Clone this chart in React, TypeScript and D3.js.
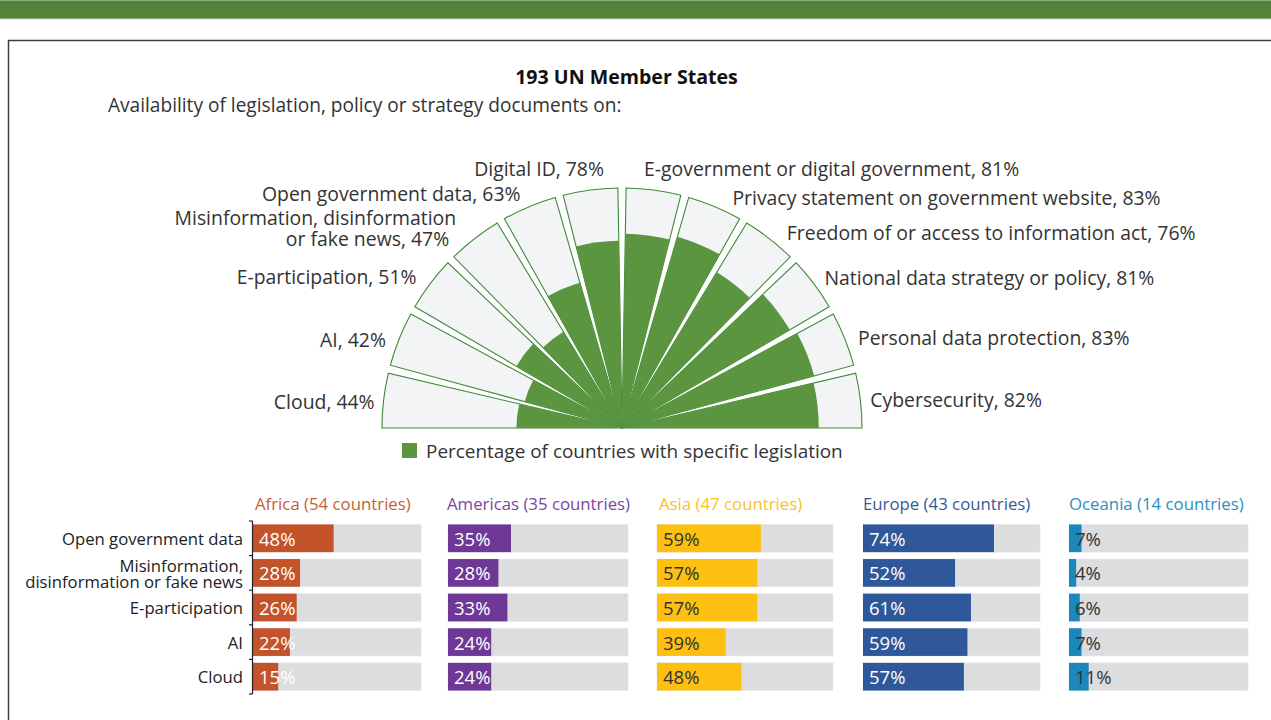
import React from "react";
import * as d3 from "d3";

// ---------- Data ----------
const polarCategories = [
  "Cloud",
  "AI",
  "E-participation",
  "Misinformation, disinformation or fake news",
  "Open government data",
  "Digital ID",
  "E-government or digital government",
  "Privacy statement on government website",
  "Freedom of or access to information act",
  "National data strategy or policy",
  "Personal data protection",
  "Cybersecurity",
];
const polarValues = [44, 42, 51, 47, 63, 78, 81, 83, 76, 81, 83, 82];

const regionNames = [
  "Africa (54 countries)",
  "Americas (35 countries)",
  "Asia (47 countries)",
  "Europe (43 countries)",
  "Oceania (14 countries)",
];
const barCategories = [
  "Open government data",
  "Misinformation, disinformation or fake news",
  "E-participation",
  "AI",
  "Cloud",
];
const africaValues = [48, 28, 26, 22, 15];
const americasValues = [35, 28, 33, 24, 24];
const asiaValues = [59, 57, 57, 39, 48];
const europeValues = [74, 52, 61, 59, 57];
const oceaniaValues = [7, 4, 6, 7, 11];
const regionValues = [africaValues, americasValues, asiaValues, europeValues, oceaniaValues];

// ---------- Styles / layout ----------
const FONT = "'Open Sans', 'Noto Sans', sans-serif";
const W = 1271;
const H = 720;
const GREEN = "#5b9540";
const GREEN_STROKE = "#3f8a35";
const SECTOR_BG = "#f3f4f5";
const regionBarColors = ["#c3532a", "#6e3996", "#fdc010", "#2e5899", "#1a88bb"];
const regionTitleColors = ["#c95e35", "#7a45a0", "#f9c21f", "#34599a", "#2990c3"];
const regionTextColors = ["#ffffff", "#ffffff", "#333333", "#ffffff", "#333333"];
const panelX = [253, 448, 657, 863, 1069];
const panelW = [168, 180, 176, 177, 179];
const titleDx = [2, -1, 2, 0, 0];
// small label nudges [dx, dy] for the polar labels
const labelNudge: [number, number][] = [
  [3, 2], [-2, 5], [-4, 0], [-11, -1], [-4, -2], [0, 0],
  [0, 0], [13, 2], [10, 3], [1, 1], [2, 3], [-2, 0],
];

export default function App() {
  const cx = 622;
  const cy = 428;
  const R = 240;

  const angle = d3
    .scaleBand<string>()
    .domain(polarCategories)
    .range([-Math.PI / 2, Math.PI / 2])
    .paddingInner(0.13)
    .paddingOuter(0);
  const rScale = d3.scaleLinear().domain([0, 100]).range([0, R]);
  const arc = d3.arc<any>();

  const sectors = polarCategories.map((c, i) => {
    const a0 = angle(c)!;
    const a1 = a0 + angle.bandwidth();
    const bg = arc({ innerRadius: 0, outerRadius: R, startAngle: a0, endAngle: a1 });
    const fg = arc({ innerRadius: 0, outerRadius: rScale(polarValues[i]), startAngle: a0, endAngle: a1 });
    const mid = (a0 + a1) / 2;
    const lr = R + 12;
    let lx = cx + lr * Math.sin(mid);
    let ly = cy - lr * Math.cos(mid);
    const right = mid > 0;
    if (i === 5) { lx = cx - 18; ly = cy - R - 20; }
    if (i === 6) { lx = cx + 22; ly = cy - R - 20; }
    lx += labelNudge[i][0];
    ly += labelNudge[i][1];
    const text = `${c}, ${polarValues[i]}%`;
    const lines = c.startsWith("Misinformation")
      ? ["Misinformation, disinformation", `or fake news, ${polarValues[i]}%`]
      : [text];
    return { c, bg, fg, lx, ly, right, lines };
  });

  const y = d3
    .scaleBand<string>()
    .domain(barCategories)
    .range([521, 694])
    .paddingInner(0.2)
    .paddingOuter(0.1);
  const xScales = panelX.map((px, i) => d3.scaleLinear().domain([0, 100]).range([px, px + panelW[i]]));
  const boundaries = barCategories.map((c) => y(c)! - (y.step() * y.paddingInner()) / 2);
  boundaries[0] = 521;
  boundaries.push(694);

  return (
    <svg
      width={W}
      height={H}
      style={{ position: "absolute", left: 0, top: 0, background: "#fff" }}
      fontFamily={FONT}
    >
      {/* top band */}
      <rect x={0} y={0} width={W} height={19} fill="#538238" />
      <rect x={0} y={0} width={W} height={1} fill="#8eae7c" />
      <rect x={0} y={18.5} width={W} height={1} fill="#c9dcbf" />
      {/* frame */}
      <path d={`M8.5,${H} V40.5 H${W}`} fill="none" stroke="#3d3d3d" strokeWidth={1.5} />

      {/* titles */}
      <text x={626.5} y={76} textAnchor="middle" dominantBaseline="central" fontWeight="bold" fontSize={19.6} fill="#111">
        193 UN Member States
      </text>
      <text x={108} y={105} dominantBaseline="central" fontSize={19.1} fill="#333">
        Availability of legislation, policy or strategy documents on:
      </text>

      {/* polar */}
      <g transform={`translate(${cx},${cy})`}>
        {sectors.map((s, i) => (
          <path key={"bg" + i} d={s.bg!} fill={SECTOR_BG} stroke={GREEN_STROKE} strokeWidth={1.1} strokeLinejoin="miter" />
        ))}
        {sectors.map((s, i) => (
          <path key={"fg" + i} d={s.fg!} fill={GREEN} />
        ))}
      </g>
      {sectors.map((s, i) => (
        <text
          key={"lbl" + i}
          x={s.lx}
          y={s.ly}
          textAnchor={s.right ? "start" : "end"}
          fontSize={19.4}
          fill="#333"
        >
          {s.lines.map((ln, j) => (
            <tspan
              key={j}
              x={s.lx - (j === 1 ? 7 : 0)}
              dy={j === 0 ? (s.lines.length > 1 ? -10.5 : 0) : 21}
              dominantBaseline="central"
            >
              {ln}
            </tspan>
          ))}
        </text>
      ))}

      {/* legend */}
      <rect x={402} y={443} width={15} height={15} fill={GREEN} />
      <text x={426} y={451} dominantBaseline="central" fontSize={18.95} fill="#333">
        Percentage of countries with specific legislation
      </text>

      {/* bar panels */}
      {regionNames.map((name, ri) => (
        <g key={name}>
          <text x={panelX[ri] + titleDx[ri]} y={503} dominantBaseline="central" fontSize={16.8} fill={regionTitleColors[ri]}>
            {name}
          </text>
          {barCategories.map((c, ci) => {
            const xs = xScales[ri];
            const v = regionValues[ri][ci];
            return (
              <g key={c}>
                <rect x={xs(0)} y={y(c)!} width={xs(100) - xs(0)} height={y.bandwidth()} fill="#dcdddf" stroke="#e9e9ea" strokeWidth={0.8} />
                <rect x={xs(0)} y={y(c)!} width={xs(v) - xs(0)} height={y.bandwidth()} fill={regionBarColors[ri]} />
                <text
                  x={xs(0) + 6}
                  y={y(c)! + y.bandwidth() / 2}
                  dominantBaseline="central"
                  fontSize={18.5}
                  fill={regionTextColors[ri]}
                >
                  {v}%
                </text>
              </g>
            );
          })}
        </g>
      ))}

      {/* category axis */}
      <line x1={252.5} x2={252.5} y1={521} y2={694} stroke="#222" strokeWidth={1.2} />
      {boundaries.map((b, i) => (
        <line key={i} x1={249} x2={252.5} y1={b} y2={b} stroke="#222" strokeWidth={1.2} />
      ))}
      {barCategories.map((c) => {
        const cyy = y(c)! + y.bandwidth() / 2;
        if (c.startsWith("Misinformation")) {
          return (
            <text key={c} x={243} y={cyy} textAnchor="end" fontSize={16.7} fill="#222">
              <tspan x={243} dy={-7} dominantBaseline="central">Misinformation,</tspan>
              <tspan x={243} dy={16} dominantBaseline="central">disinformation or fake news</tspan>
            </text>
          );
        }
        return (
          <text key={c} x={243} y={cyy} textAnchor="end" dominantBaseline="central" fontSize={16.7} fill="#222">
            {c}
          </text>
        );
      })}
    </svg>
  );
}
